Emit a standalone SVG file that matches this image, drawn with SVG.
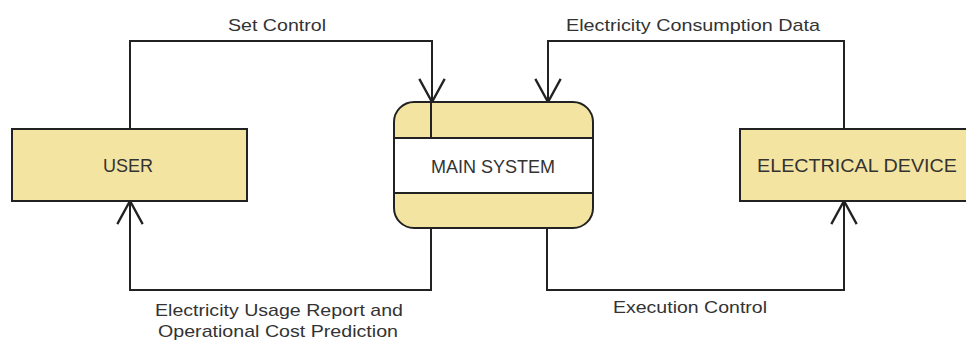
<svg xmlns="http://www.w3.org/2000/svg" width="966" height="345" viewBox="0 0 966 345">
<style>
.box{fill:#F4E4A1;stroke:#222;stroke-width:2}
.line{fill:none;stroke:#222;stroke-width:2}
.node{font-family:"Liberation Sans",Arial,sans-serif;font-size:18px;fill:#333;text-anchor:middle}
.lbl{font-family:"Liberation Sans",Arial,sans-serif;font-size:17px;fill:#333}
</style>
<defs>
<marker id="arr" markerUnits="userSpaceOnUse" markerWidth="30" markerHeight="30" viewBox="-22 -13 24 26" refX="0" refY="0" orient="auto">
<path d="M-20,-11 L0,0 L-20,11" fill="none" stroke="#222" stroke-width="2"/>
</marker>
</defs>
<rect width="966" height="345" fill="#fff"/>
<g id="connectors">
<path class="line" d="M130,129 V41 H432 V102" marker-end="url(#arr)"/>
<path class="line" d="M844,129 V41 H548 V102" marker-end="url(#arr)"/>
<path class="line" d="M431,228 V290 H130 V201" marker-end="url(#arr)"/>
<path class="line" d="M547,228 V290 H844 V201" marker-end="url(#arr)"/>
<text class="lbl" x="228" y="31" textLength="98" lengthAdjust="spacingAndGlyphs">Set Control</text>
<text class="lbl" x="566" y="31" textLength="254" lengthAdjust="spacingAndGlyphs">Electricity Consumption Data</text>
<text class="lbl" x="155" y="316" textLength="248" lengthAdjust="spacingAndGlyphs">Electricity Usage Report and</text>
<text class="lbl" x="158" y="337" textLength="240" lengthAdjust="spacingAndGlyphs">Operational Cost Prediction</text>
<text class="lbl" x="613" y="313" textLength="154" lengthAdjust="spacingAndGlyphs">Execution Control</text>
</g>
<g id="user">
<rect class="box" x="12" y="129" width="235" height="72"/>
<text class="node" x="128" y="172">USER</text>
</g>
<g id="main-system">
<rect x="394" y="102" width="199" height="126" rx="20" fill="#F4E4A1"/>
<rect x="394" y="138" width="199" height="55" fill="#fff"/>
<line class="line" x1="394" y1="138" x2="593" y2="138"/>
<line class="line" x1="394" y1="193" x2="593" y2="193"/>
<line class="line" x1="431" y1="102" x2="431" y2="138"/>
<rect x="394" y="102" width="199" height="126" rx="20" fill="none" stroke="#222" stroke-width="2"/>
<text class="node" x="493" y="173">MAIN SYSTEM</text>
</g>
<g id="electrical-device">
<rect class="box" x="740" y="129" width="240" height="72"/>
<text class="node" x="857" y="172" textLength="200" lengthAdjust="spacingAndGlyphs">ELECTRICAL DEVICE</text>
</g>
</svg>
